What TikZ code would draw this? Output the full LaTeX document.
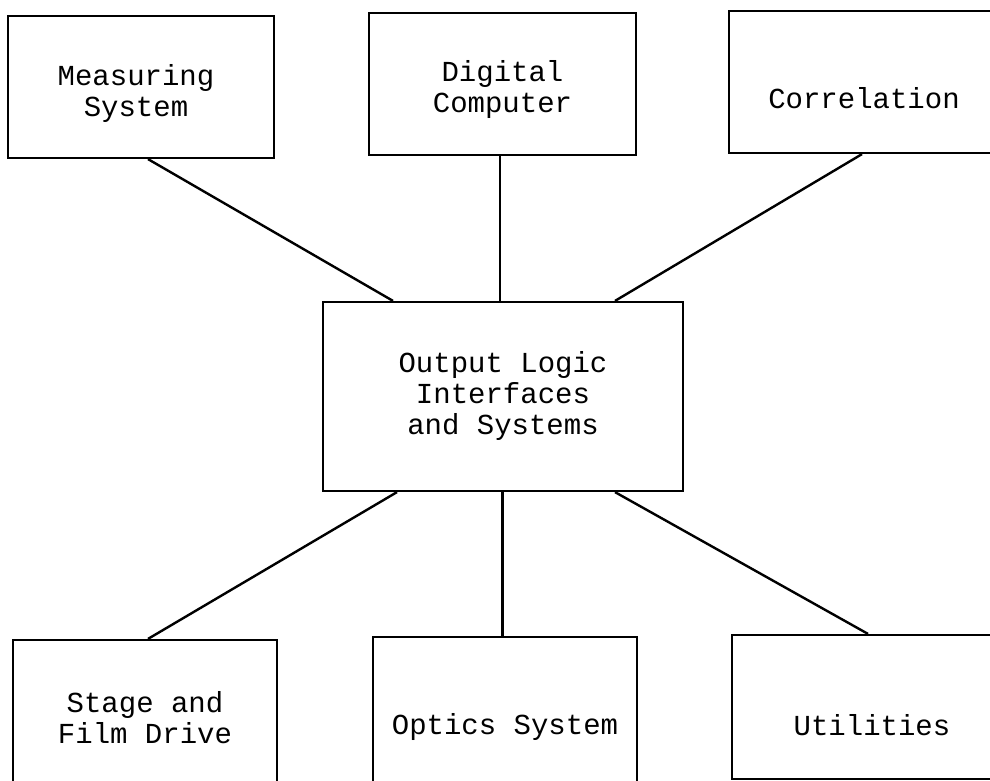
\documentclass[tikz,border=0pt]{standalone}
\usepackage{fontspec}
\setmonofont{Liberation Mono}
\begin{document}
\begin{tikzpicture}[x=1pt,y=-1pt,
  box/.style={draw=black, line width=2.2pt, rectangle, inner sep=0pt},
  lbl/.style={font=\ttfamily\fontsize{29}{31}\selectfont, align=center, inner sep=0pt, text=black},
  link/.style={draw=black, line width=2.4pt}]
  \useasboundingbox (0,0) rectangle (990,781);
  \clip (0,0) rectangle (990,781);

  % blocks
  \node[box, minimum width=266pt, minimum height=142pt] (meas) at (141,87) {};
  \node[box, minimum width=267pt, minimum height=142pt] (dig) at (502.5,84) {};
  \node[box, minimum width=270pt, minimum height=142pt] (corr) at (864,82) {};
  \node[box, minimum width=360pt, minimum height=189pt] (out) at (503,396.5) {};
  \node[box, minimum width=264pt, minimum height=180pt] (stage) at (145,730) {};
  \node[box, minimum width=264pt, minimum height=180pt] (optics) at (505,727) {};
  \node[box, minimum width=280pt, minimum height=144pt] (util) at (872,707) {};

  % labels
  \node[lbl] (measT) at (136,94) {Measuring\\System};
  \node[lbl] (digT) at (502.5,90) {Digital\\Computer};
  \node[lbl] (corrT) at (864,98) {Correlation};
  \node[lbl] (outT) at (503,396) {Output Logic\\Interfaces\\and Systems};
  \node[lbl] (stageT) at (145,718) {Stage and\\Film Drive};
  \node[lbl] (opticsT) at (505,727) {Optics System};
  \node[lbl] (utilT) at (872,725) {Utilities};

  % connectors
  \draw[link] ([xshift=7pt]meas.south) -- ([xshift=-110pt]out.north);
  \draw[link] ([xshift=-2.5pt]dig.south) -- ([xshift=-3pt]out.north);
  \draw[link] ([xshift=-2pt]corr.south) -- ([xshift=112pt]out.north);
  \draw[link] ([xshift=-106pt]out.south) -- ([xshift=3pt]stage.north);
  \draw[link] ([xshift=-0.5pt]out.south) -- ([xshift=-2.5pt]optics.north);
  \draw[link] ([xshift=112pt]out.south) -- ([xshift=-4pt]util.north);
\end{tikzpicture}
\end{document}
